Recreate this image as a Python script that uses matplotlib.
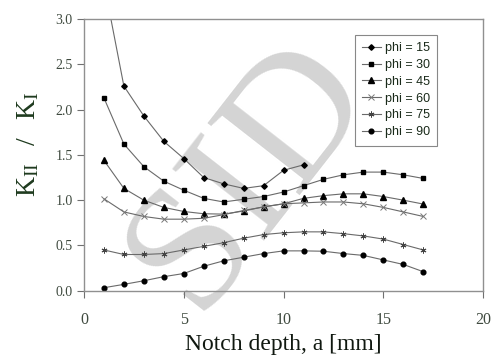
import numpy as np
import matplotlib
matplotlib.use('Agg')
import matplotlib.pyplot as plt
from matplotlib.lines import Line2D

# notch depth a [mm]
depth = np.arange(1, 18)
depth_phi15 = np.arange(1, 12)

phi15 = [3.40, 2.26, 1.93, 1.65, 1.46, 1.25, 1.18, 1.13, 1.16, 1.33, 1.39]
phi30 = [2.13, 1.62, 1.37, 1.21, 1.11, 1.02, 0.98, 1.01, 1.04, 1.09, 1.16,
         1.23, 1.28, 1.31, 1.31, 1.28, 1.24]
phi45 = [1.44, 1.13, 1.00, 0.92, 0.875, 0.85, 0.846, 0.88, 0.927, 0.96, 1.02,
         1.05, 1.07, 1.07, 1.04, 1.00, 0.957]
phi60 = [1.015, 0.87, 0.82, 0.79, 0.79, 0.80, 0.84, 0.886, 0.925, 0.96, 0.97,
         0.98, 0.98, 0.96, 0.92, 0.87, 0.82]
phi75 = [0.45, 0.40, 0.40, 0.41, 0.45, 0.49, 0.53, 0.58, 0.62, 0.64, 0.65,
         0.65, 0.63, 0.605, 0.57, 0.51, 0.45]
phi90 = [0.033, 0.07, 0.11, 0.155, 0.19, 0.27, 0.33, 0.37, 0.41, 0.44, 0.44,
         0.436, 0.41, 0.39, 0.34, 0.29, 0.21]

labels = ['phi = 15', 'phi = 30', 'phi = 45', 'phi = 60', 'phi = 75', 'phi = 90']

fig = plt.figure(figsize=(4.91, 3.56), dpi=100)
ax = fig.add_axes([0.171, 0.1834, 0.813, 0.763])
ax.patch.set_alpha(0)

# faint watermark behind the plot
fig.text(0.51, 0.51, 'SID', fontsize=128, family='Liberation Serif',
         color='#d4d4d4', rotation=52, ha='center', va='center', zorder=-5)

line_col = '#6a6a6a'
series = [
    (depth_phi15, phi15, dict(marker='D', ms=2.8, mfc='black', mec='black')),
    (depth, phi30, dict(marker='s', ms=3.4, mfc='black', mec='black')),
    (depth, phi45, dict(marker='^', ms=3.8, mfc='black', mec='black')),
    (depth, phi60, dict(marker='x', ms=4, mfc='none', mec='#777777', mew=0.7)),
    (depth, phi75, dict(marker=(6, 2, 0), ms=4.2, mfc='none', mec='#444444', mew=0.7)),
    (depth, phi90, dict(marker='o', ms=3.4, mfc='black', mec='black')),
]
handles = []
for (x, y, style), lab in zip(series, labels):
    ax.plot(x, y, color=line_col, lw=0.8, clip_on=True, **style)
    handles.append(Line2D([], [], color=line_col, lw=0.8, label=lab, **style))

ax.set_xlim(0, 20)
ax.set_ylim(0, 3.0)
ax.set_xticks([0, 5, 10, 15, 20])
ax.set_yticks(np.arange(0, 3.01, 0.5))
ax.set_yticklabels(['%.1f' % v for v in np.arange(0, 3.01, 0.5)])

for s in ax.spines.values():
    s.set_color('#909090')
    s.set_linewidth(1.0)
ax.tick_params(direction='out', length=5, width=0.8, color='#707070',
               labelcolor='#3f4a3f')
ax.tick_params(axis='x', labelsize=11.5, pad=10)
ax.tick_params(axis='y', labelsize=10, pad=3)
for t in ax.get_xticklabels() + ax.get_yticklabels():
    t.set_family('Liberation Serif')

ax.set_xlabel('Notch depth, a [mm]', family='Liberation Serif', fontsize=17,
              color='#101810', labelpad=5)
ax.set_ylabel(r'$\mathregular{K_{II}\ \ /\ \ K_{I}}$', family='Liberation Serif',
              fontsize=20, color='#1e3a1e')
ax.yaxis.set_label_coords(-0.108, 0.54)

leg = ax.legend(handles=handles, loc='upper right', bbox_to_anchor=(0.885, 0.942),
                borderaxespad=0, fancybox=False, edgecolor='#888888', framealpha=1,
                prop={'family': 'Liberation Sans', 'size': 9},
                handlelength=1.5, handletextpad=0.3, labelspacing=0.38,
                borderpad=0.6)
leg.get_frame().set_linewidth(0.8)
for t in leg.get_texts():
    t.set_color('#1a2a1a')

fig.savefig('out.png', dpi=100)
